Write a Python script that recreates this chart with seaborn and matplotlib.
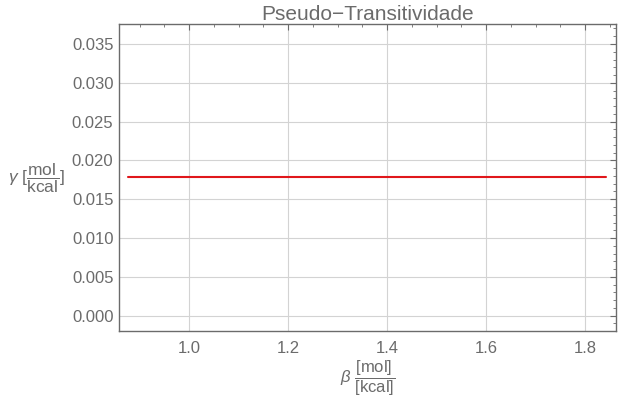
import numpy as np
import pandas as pd
import matplotlib
matplotlib.use("Agg")
import matplotlib.pyplot as plt
import seaborn as sns
from matplotlib.ticker import MultipleLocator, FormatStrFormatter

# data
beta = [0.876, 1.842]
gamma = [0.0179, 0.0179]

sns.set_theme(style="white")
plt.rcParams.update(
    {
        "font.family": ["Liberation Sans", "DejaVu Sans"],
        "mathtext.fontset": "custom",
        "mathtext.rm": "Liberation Sans",
        "mathtext.it": "Liberation Sans:italic",
        "mathtext.bf": "Liberation Sans:bold",
    }
)

gray = "#6b6b6b"
df = pd.DataFrame({"beta": beta, "gamma": gamma})

fig = plt.figure(figsize=(6.28, 4.05), dpi=100)
ax = fig.add_axes([0.1895, 0.182, 0.791, 0.758])

sns.lineplot(data=df, x="beta", y="gamma", color="#e0171b", linewidth=1.5, ax=ax)

ax.set_xlim(0.8585, 1.862)
ax.set_ylim(-0.00201, 0.03754)

ax.xaxis.set_major_locator(MultipleLocator(0.2))
ax.xaxis.set_minor_locator(MultipleLocator(0.05))
ax.yaxis.set_major_locator(MultipleLocator(0.005))
ax.yaxis.set_minor_locator(MultipleLocator(0.001))
ax.xaxis.set_major_formatter(FormatStrFormatter("%.1f"))
ax.yaxis.set_major_formatter(FormatStrFormatter("%.3f"))

ax.grid(True, which="major", color="#d3d3d3", linewidth=0.8)
for s in ax.spines.values():
    s.set_color(gray)
    s.set_linewidth(1.0)

ax.tick_params(which="both", direction="in", top=True, right=True, colors=gray,
               labelcolor=gray, labelsize=12)
ax.tick_params(which="major", length=4, width=0.8)
ax.tick_params(which="minor", length=2.2, width=0.6)
ax.tick_params(axis="x", pad=7)
ax.tick_params(axis="y", pad=4)

ax.set_title("Pseudo\u2212Transitividade", color=gray, fontsize=15, pad=3)
ax.set_xlabel(r"$\beta\ \dfrac{[\mathrm{mol}]}{[\mathrm{kcal}]}$", color=gray, fontsize=12,
              labelpad=2)
ax.set_ylabel(r"$\gamma\ [\dfrac{\mathrm{mol}}{\mathrm{kcal}}]$", color=gray, fontsize=12.5,
              rotation=0, ha="right", va="center", labelpad=5)

fig.savefig("out.png", dpi=100)
